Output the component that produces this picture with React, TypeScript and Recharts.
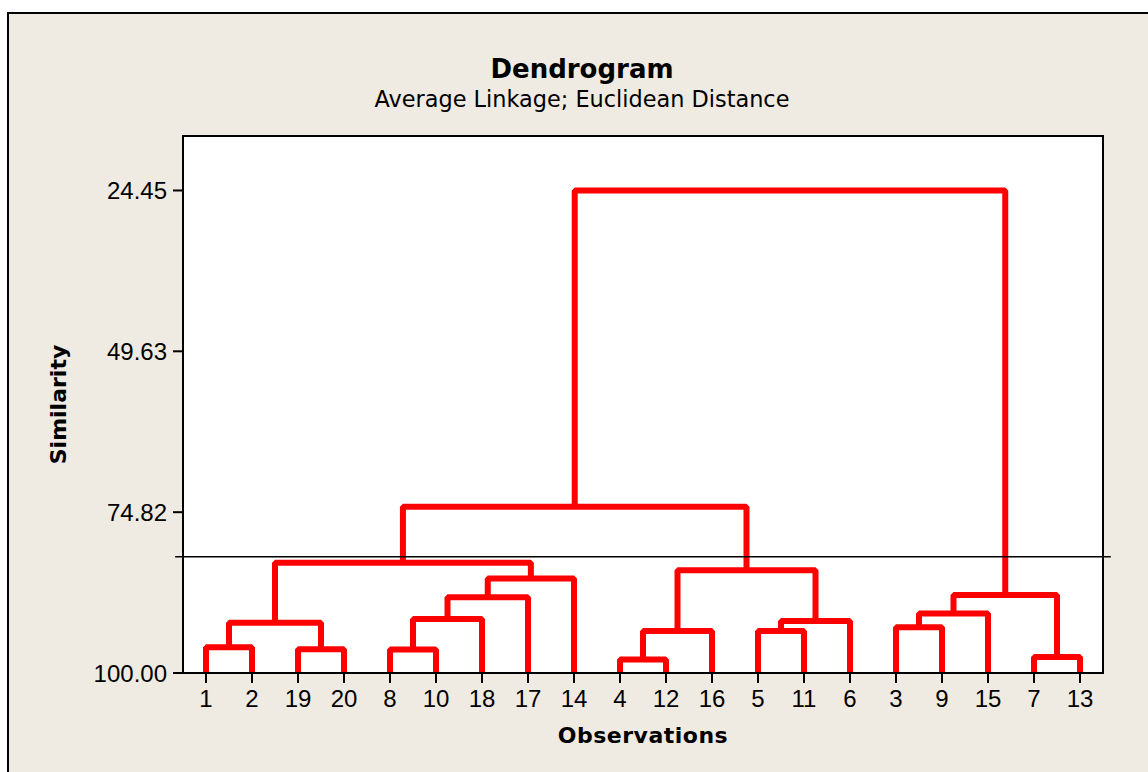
import React from 'react';
import { LineChart, Line, XAxis, YAxis, CartesianGrid, ReferenceLine, ReferenceArea, Label } from 'recharts';

// observations in the order they sit along the x axis
const leafOrder = [1, 2, 19, 20, 8, 10, 18, 17, 14, 4, 12, 16, 5, 11, 6, 3, 9, 15, 7, 13];

// merge steps: two clusters joined at a similarity level.
// plain numbers are observations, "mN" is the cluster made at step N
const joinLeft = ['1', '19', 'm0', '8', 'm3', 'm4', 'm5', 'm2', '4', 'm8', '5', 'm10', 'm9', 'm7', '3', 'm14', '7', 'm15', 'm13'];
const joinRight = ['2', '20', 'm1', '10', '18', '17', '14', 'm6', '12', '16', '11', '6', 'm11', 'm12', '9', '15', '13', 'm16', 'm17'];
const similarity = [95.98, 96.29, 92.14, 96.32, 91.55, 88.12, 85.2, 82.73, 97.88, 93.44, 93.44, 91.87, 83.92, 73.98, 92.82, 90.68, 97.51, 87.8, 24.45];

const cutLevel = 81.78;
const yTicks = [24.45, 49.63, 74.82, 100.0];
const yDomain = [15.92, 100];

const W = 1148;
const H = 772;
const RED = '#ff0000';
const TICK_FONT = "'Liberation Sans', Arial, sans-serif";
const TEXT_FONT = "'DejaVu Sans', Verdana, sans-serif";

// lay out the U-shaped links: leaves sit at their index, each cluster at the mid of its two children
const nodeX: Record<string, number> = {};
const nodeY: Record<string, number> = {};
leafOrder.forEach((obs, i) => {
  nodeX[String(obs)] = i;
  nodeY[String(obs)] = 100;
});
const links = similarity.map((s, k) => {
  const a = joinLeft[k];
  const b = joinRight[k];
  nodeX[`m${k}`] = (nodeX[a] + nodeX[b]) / 2;
  nodeY[`m${k}`] = s;
  return [
    { x: nodeX[a], y: nodeY[a] },
    { x: nodeX[a], y: s },
    { x: nodeX[b], y: s },
    { x: nodeX[b], y: nodeY[b] },
  ];
});

const xDomain = [-0.5, leafOrder.length - 0.5];
const xTicks = leafOrder.map((_, i) => i);
const overhang = 0.17;

const axisLine = { stroke: '#000', strokeWidth: 2 };

const App: React.FC = () => {
  return (
    <div style={{ position: 'absolute', left: 0, top: 0, width: W, height: H, background: '#fff', overflow: 'hidden' }}>
      <div
        style={{
          position: 'absolute',
          left: 7,
          top: 12,
          width: W + 20,
          height: H + 20,
          background: '#efebe2',
          borderLeft: '2px solid #000',
          borderTop: '2px solid #000',
        }}
      />
      <svg width={W} height={H} style={{ position: 'absolute', left: 0, top: 0 }}>
        <text x={582} y={78} textAnchor="middle" fontFamily={TEXT_FONT} fontWeight="bold" fontSize={26} fill="#000">
          Dendrogram
        </text>
        <text x={582} y={107} textAnchor="middle" fontFamily={TEXT_FONT} fontSize={22.4} fill="#000">
          Average Linkage; Euclidean Distance
        </text>
      </svg>
      <div style={{ position: 'absolute', left: 0, top: 0 }}>
        <LineChart width={W} height={H} margin={{ top: 136, right: 45, bottom: 29, left: 83 }}>
          <CartesianGrid horizontal={false} vertical={false} fill="#fff" fillOpacity={1} />
          <XAxis
            dataKey="x"
            type="number"
            domain={xDomain}
            ticks={xTicks}
            interval={0}
            allowDataOverflow
            tickFormatter={(i: number) => String(leafOrder[i])}
            height={70}
            tickSize={10}
            tickMargin={7}
            axisLine={axisLine}
            tickLine={axisLine}
            tick={{ fill: '#000', fontSize: 24, fontFamily: TICK_FONT }}
          >
            <Label
              value="Observations"
              position="insideBottom"
              offset={0}
              style={{ fontFamily: TEXT_FONT, fontWeight: 'bold', fontSize: 22, fill: '#000', letterSpacing: 0.5 }}
            />
          </XAxis>
          <YAxis
            type="number"
            domain={yDomain}
            reversed
            allowDataOverflow
            ticks={yTicks}
            tickFormatter={(v: number) => v.toFixed(2)}
            width={100}
            tickSize={10}
            tickMargin={6}
            axisLine={axisLine}
            tickLine={axisLine}
            tick={{ fill: '#000', fontSize: 24, fontFamily: TICK_FONT }}
          >
            <Label
              content={({ viewBox }: any) => {
                const cx = viewBox.x - 25;
                const cy = viewBox.y + viewBox.height / 2;
                return (
                  <text
                    x={cx}
                    y={cy}
                    transform={`rotate(-90, ${cx}, ${cy})`}
                    textAnchor="middle"
                    dominantBaseline="central"
                    fontFamily={TEXT_FONT}
                    fontWeight="bold"
                    fontSize={22}
                    fill="#000"
                  >
                    Similarity
                  </text>
                );
              }}
            />
          </YAxis>
          {/* plot frame */}
          <ReferenceArea
            x1={xDomain[0]}
            x2={xDomain[1]}
            y1={yDomain[0]}
            y2={yDomain[1]}
            ifOverflow="visible"
            fill="none"
            fillOpacity={0}
            stroke="#000"
            strokeWidth={2}
          />
          {links.map((pts, k) => (
            <Line
              key={k}
              data={pts}
              dataKey="y"
              type="linear"
              stroke={RED}
              strokeWidth={6}
              strokeLinejoin="bevel"
              dot={false}
              activeDot={false}
              isAnimationActive={false}
            />
          ))}
          <ReferenceLine
            segment={[
              { x: xDomain[0] - overhang, y: cutLevel },
              { x: xDomain[1] + overhang, y: cutLevel },
            ]}
            ifOverflow="visible"
            stroke="#000"
            strokeWidth={1.5}
          />
        </LineChart>
      </div>
    </div>
  );
};

export default App;
